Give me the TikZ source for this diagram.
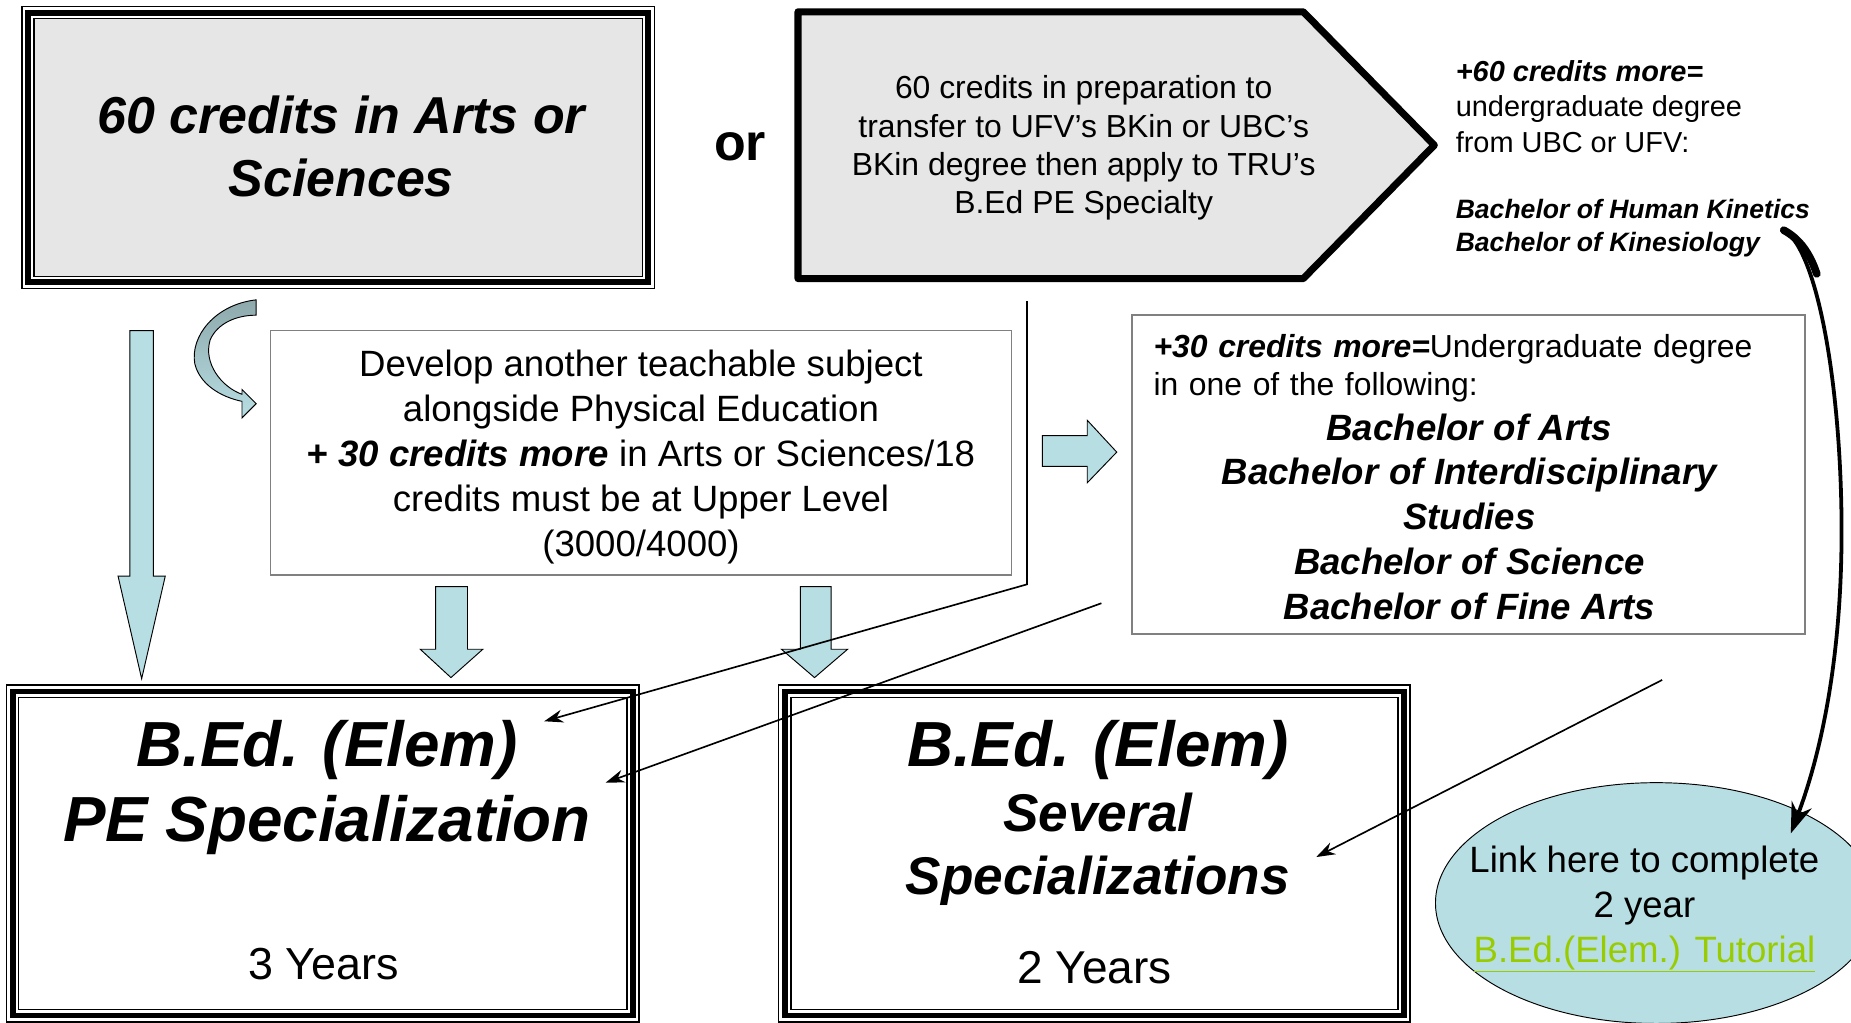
\documentclass[tikz,border=0pt]{standalone}
\usepackage{fontspec}
\setmainfont{Liberation Sans}
\usetikzlibrary{arrows.meta,calc,shapes.geometric}
\definecolor{lblue}{HTML}{B7DEE3}
\definecolor{dblue}{HTML}{8EA9AC}
\definecolor{lgray}{HTML}{E6E6E6}
\definecolor{lgreen}{HTML}{99CC00}
\definecolor{bordergray}{HTML}{808080}
\newcommand{\fs}[2]{\fontsize{#1pt}{#2pt}\selectfont}
\newcommand{\triframe}[2]{%
  \fill[#2] ([shift={(11,11)}]#1.north west) rectangle ([shift={(-11,-11)}]#1.south east);
  \draw[line width=1.4pt] ([shift={(0.7,0.7)}]#1.north west) rectangle ([shift={(-0.7,-0.7)}]#1.south east);
  \draw[line width=5pt] ([shift={(6,6)}]#1.north west) rectangle ([shift={(-6,-6)}]#1.south east);
  \draw[line width=1.4pt] ([shift={(11,11)}]#1.north west) rectangle ([shift={(-11,-11)}]#1.south east);
}
\begin{document}
\begin{tikzpicture}[x=1pt,y=-1pt,
  bluearrow/.style={fill=lblue,draw=black,line width=0.8pt,line join=miter},
  conn/.style={draw=black,line width=1.4pt,-{Stealth[length=16pt,width=11pt]}},
  boxframe/.style={inner sep=0pt},
  plainbox/.style={draw=bordergray,line width=1.2pt,inner sep=0pt},
  txt/.style={inner sep=0pt,align=center},
 ]
\useasboundingbox[fill=white] (0,0) rectangle (1568,866);

% ---- top-left box
\node[boxframe,minimum width=537,minimum height=240] (tl) at (286.5,125) {};
\triframe{tl}{lgray}
\node[txt,font=\fs{44}{53}\bfseries\itshape] (tltext) at (289,124) {60 credits in Arts or\\Sciences};

% ---- or
\node[txt,font=\fs{44}{53}\bfseries] (or) at (627,124) {or};

% ---- pentagon
\draw[line width=6pt,fill=lgray,line join=round] (676,10) -- (1104,10) -- (1215,123) -- (1104,236) -- (676,236) -- cycle;
\node[txt,font=\fs{27}{32.5}] (pent) at (918,125.5) {60 credits in preparation to\\transfer to UFV’s BKin or UBC’s\\BKin degree then apply to TRU’s\\B.Ed PE Specialty};

% ---- top-right text
\node[inner sep=0pt,anchor=north west,align=left,font=\fs{24.5}{30}] (trtext) at (1233,51) {\textbf{\textit{+60 credits more=}}\\undergraduate degree\\from UBC or UFV:};
\node[inner sep=0pt,anchor=north west,align=left,font=\fs{22.5}{28}\bfseries\itshape] (trdeg) at (1233,168.5) {Bachelor of Human Kinetics\\Bachelor of Kinesiology};

% ---- middle box
\node[plainbox,minimum width=628,minimum height=207] (mid) at (543,383.5) {};
\node[txt,font=\fs{31}{38}] (midtext) at (543,387) {Develop another teachable subject\\alongside Physical Education\\\textbf{\textit{+ 30 credits more}} in Arts or Sciences/18\\credits must be at Upper Level\\(3000/4000)};

% ---- right box
\node[plainbox,minimum width=570,minimum height=270] (rbox) at (1244,402) {};
\node[inner sep=0pt,anchor=north west,text width=535pt,font=\fs{27}{32}] (rtext) at (977,283)
 {\raggedright\textbf{\textit{+30 credits more=}}Undergraduate degree\\in one of the following:\par
  \centering\fs{31}{38}\bfseries\itshape Bachelor of Arts\\Bachelor of Interdisciplinary\\Studies\\Bachelor of Science\\Bachelor of Fine Arts\par};

% ---- bottom boxes
\node[boxframe,minimum width=537,minimum height=286] (bl) at (273.5,723) {};
\triframe{bl}{white}
\node[txt,font=\fs{54}{63}\bfseries\itshape] (bltitle) at (277,667) {B.Ed. (Elem)\\PE Specialization};
\node[txt,font=\fs{38}{45}] (blyears) at (274,817) {3 Years};

\node[boxframe,minimum width=536,minimum height=286] (bm) at (927,723) {};
\triframe{bm}{white}
\node[txt,font=\fs{54}{63}\bfseries\itshape] (bmtitle) at (930,635) {B.Ed. (Elem)};
\node[txt,font=\fs{45}{54}\bfseries\itshape] (bmsub) at (930,719.5) {Several\\Specializations};
\node[txt,font=\fs{39}{45}] (bmyears) at (927,820) {2 Years};

% ---- ellipse
\node[ellipse,draw=black,line width=0.8pt,fill=lblue,minimum width=374,minimum height=204,inner sep=0pt] (ell) at (1403,765) {};
\node[txt,font=\fs{31}{38}] (elltext) at (1393,770) {Link here to complete\\2 year\\\textcolor{lgreen}{\underline{B.Ed.(Elem.) Tutorial}}};

% ---- blue block arrows
\draw[bluearrow] (110,280) -- (130,280) -- (130,488) -- (140,488) -- (120,575) -- (100,488) -- (110,488) -- cycle;
\draw[bluearrow] (369,497) -- (396,497) -- (396,550) -- (409,550) -- (382,574) -- (356,550) -- (369,550) -- cycle;
\draw[bluearrow] (678,497) -- (704,497) -- (704,550) -- (718,550) -- (690,574) -- (662,550) -- (678,550) -- cycle;
\draw[bluearrow] (883,369) -- (921,369) -- (921,356) -- (946,383) -- (921,409) -- (921,395) -- (883,395) -- cycle;

% ---- curved block arrow
\draw[line width=0.8pt,top color=dblue,bottom color=lblue,line join=miter]
  (217,254) .. controls (182,258) and (161,285) .. (165,308)
  .. controls (169,325) and (186,336) .. (205,340)
  -- (205,354) -- (217,342) -- (205,330) -- (205,334)
  .. controls (188,328) and (172,308) .. (178,288)
  .. controls (184,274) and (200,267) .. (217,267) -- cycle;

% ---- connectors
\coordinate (c1a) at (870,255);
\coordinate (c1b) at (870,495);
\coordinate (pe1) at (461,611);
\coordinate (c2a) at (933,511);
\coordinate (pe2) at (513,663);
\coordinate (c3a) at (1408,576);
\coordinate (sp1) at (1115,726);
\coordinate (k1) at (1510,194);
\coordinate (k2) at (1517,706);
\draw[conn,line join=miter] (c1a) -- (c1b) -- (pe1);
\draw[conn] (c2a) -- (pe2);
\draw[conn] (c3a) -- (sp1);
\draw[line width=3.2pt,-{Stealth[length=26pt,width=18pt]}] (k1) .. controls (1540,210) and (1560,330) .. (1560,450) .. controls (1560,560) and (1542,640) .. (k2);
\draw[line width=6.5pt,line cap=round] (1511,195) .. controls (1524,202) and (1533,214) .. (1539,232);
\end{tikzpicture}
\end{document}
